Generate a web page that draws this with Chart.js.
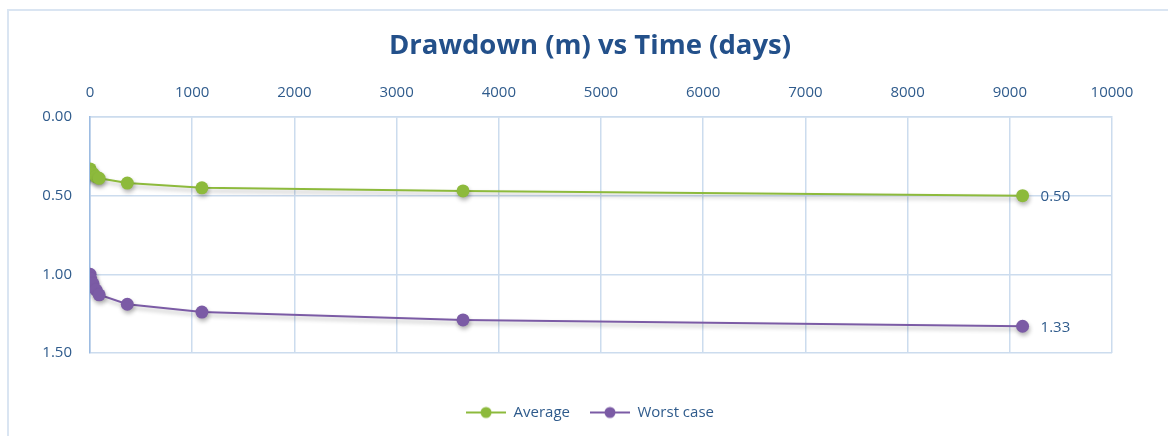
<!DOCTYPE html>
<html>
<head>
<meta charset="utf-8">
<script src="https://cdn.jsdelivr.net/npm/chart.js@4.4.1/dist/chart.umd.min.js"></script>
<style>
  html, body { margin: 0; padding: 0; background: #ffffff; }
  #wrap { width: 1168px; height: 436px; position: relative; }
</style>
</head>
<body>
<div id="wrap"><canvas id="c" width="1168" height="436"></canvas></div>
<script>
// ---- data ----
const titleText = 'Drawdown (m) vs Time (days)';
const days = [1, 7, 30, 60, 90, 365, 1095, 3650, 9125];
const averageDrawdown = [0.33, 0.35, 0.36, 0.38, 0.39, 0.42, 0.45, 0.47, 0.50];
const worstDrawdown = [1.00, 1.03, 1.06, 1.10, 1.13, 1.19, 1.24, 1.29, 1.33];
const seriesNames = ['Average', 'Worst case'];
const xTicks = [0, 1000, 2000, 3000, 4000, 5000, 6000, 7000, 8000, 9000, 10000];
const yTicks = [0.00, 0.50, 1.00, 1.50];

const GREEN = '#8DBA3C';
const PURPLE = '#7B5BA5';
const TEXT = '#2F5B8C';
const GRID = '#CCDCEE';

function toPoints(values) { return days.map((d, i) => ({ x: d, y: values[i] })); }

function legendIcon(color) {
  const cv = document.createElement('canvas');
  cv.width = 40; cv.height = 14;
  const g = cv.getContext('2d');
  g.strokeStyle = color; g.lineWidth = 2;
  g.beginPath(); g.moveTo(0, 7); g.lineTo(40, 7); g.stroke();
  g.fillStyle = color;
  g.beginPath(); g.arc(20, 7, 5.5, 0, Math.PI * 2); g.fill();
  return cv;
}

const frame = {
  id: 'frame',
  beforeDraw(chart) {
    const ctx = chart.ctx;
    ctx.save();
    ctx.strokeStyle = '#DAE5F2';
    ctx.lineWidth = 2;
    ctx.strokeRect(8, 10, 1200, 500);
    ctx.restore();
  },
  beforeDatasetsDraw(chart) {
    const ctx = chart.ctx;
    ctx.save();
    ctx.shadowColor = 'rgba(0,0,0,0.28)';
    ctx.shadowBlur = 4;
    ctx.shadowOffsetX = 1;
    ctx.shadowOffsetY = 3;
  },
  afterDatasetsDraw(chart) {
    const ctx = chart.ctx;
    ctx.restore();
    ctx.save();
    ctx.font = '15px "Open Sans"';
    ctx.fillStyle = TEXT;
    ctx.textAlign = 'left';
    ctx.textBaseline = 'middle';
    chart.data.datasets.forEach((ds, i) => {
      const meta = chart.getDatasetMeta(i);
      const last = meta.data[meta.data.length - 1];
      const v = ds.data[ds.data.length - 1].y;
      ctx.fillText(v.toFixed(2), last.x + 18, last.y + 1);
    });
    ctx.restore();
  }
};

function spacerAxis(position, size) {
  const horizontal = position === 'top' || position === 'bottom';
  return {
    type: 'linear',
    position: position,
    display: true,
    min: 0, max: 1,
    afterFit(s) { if (horizontal) { s.height = size; } else { s.width = size; } },
    ticks: { display: false },
    grid: { display: false, drawTicks: false },
    border: { display: false }
  };
}

new Chart(document.getElementById('c'), {
  type: 'line',
  data: {
    datasets: [
      {
        label: seriesNames[0],
        data: toPoints(averageDrawdown),
        borderColor: GREEN, backgroundColor: GREEN,
        borderWidth: 2, pointRadius: 6.5, pointHoverRadius: 6.5,
        pointBackgroundColor: GREEN, pointBorderWidth: 0, tension: 0,
        xAxisID: 'x', yAxisID: 'y'
      },
      {
        label: seriesNames[1],
        data: toPoints(worstDrawdown),
        borderColor: PURPLE, backgroundColor: PURPLE,
        borderWidth: 2, pointRadius: 6.5, pointHoverRadius: 6.5,
        pointBackgroundColor: PURPLE, pointBorderWidth: 0, tension: 0,
        xAxisID: 'x', yAxisID: 'y'
      }
    ]
  },
  options: {
    responsive: false,
    animation: false,
    devicePixelRatio: 1,
    layout: { padding: { left: 12, right: 0, top: 0, bottom: 6 } },
    plugins: {
      tooltip: { enabled: false },
      title: {
        display: true,
        text: titleText,
        color: '#23508A',
        font: { family: '"Open Sans"', size: 27.5, weight: 'bold' },
        padding: { top: 30, bottom: 10 }
      },
      legend: {
        position: 'bottom',
        labels: {
          color: TEXT,
          font: { family: '"Open Sans"', size: 15 },
          usePointStyle: true,
          pointStyleWidth: 40,
          padding: 20,
          generateLabels(chart) {
            return chart.data.datasets.map((ds, i) => ({
              text: ds.label,
              pointStyle: legendIcon(ds.borderColor),
              fillStyle: ds.borderColor,
              strokeStyle: ds.borderColor,
              lineWidth: 0,
              fontColor: TEXT,
              hidden: false,
              datasetIndex: i
            }));
          }
        }
      }
    },
    scales: {
      x: {
        type: 'linear',
        position: 'top',
        min: 0, max: 10000,
        afterBuildTicks(scale) { scale.ticks = xTicks.map(v => ({ value: v })); },
        afterFit(scale) { scale.height = 44; },
        ticks: {
          color: TEXT,
          font: { family: '"Open Sans"', size: 15 },
          padding: 15,
          maxRotation: 0,
          callback: v => String(v)
        },
        grid: { color: GRID, lineWidth: 1.5, drawTicks: false },
        border: { color: GRID, width: 1.5 }
      },
      y: {
        type: 'linear',
        reverse: true,
        min: 0, max: 1.5,
        afterBuildTicks(scale) { scale.ticks = yTicks.map(v => ({ value: v })); },
        afterFit(scale) { scale.width = 78; },
        ticks: {
          color: TEXT,
          font: { family: '"Open Sans"', size: 15 },
          padding: 18,
          callback: v => Number(v).toFixed(2)
        },
        grid: { color: GRID, lineWidth: 1.5, drawTicks: false },
        border: { color: '#9DBCE2', width: 1.5 }
      },
      xPad: spacerAxis('bottom', 32),
      yPad: spacerAxis('right', 56)
    }
  },
  plugins: [frame]
});
</script>
</body>
</html>
